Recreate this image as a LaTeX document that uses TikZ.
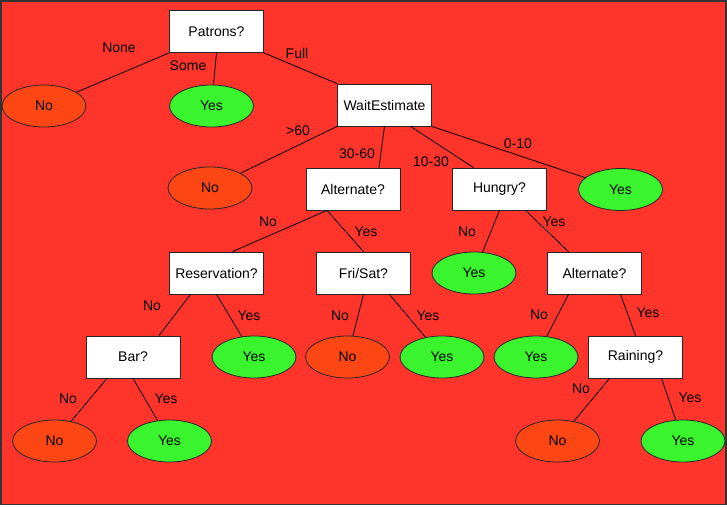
\documentclass[tikz,border=0pt]{standalone}
\usepackage{fontspec}
\setmainfont{Liberation Sans}
\usetikzlibrary{shapes.geometric}

\definecolor{bgred}{RGB}{255,52,42}
\definecolor{leafno}{RGB}{252,70,20}
\definecolor{leafyes}{RGB}{58,245,45}

\begin{document}
\begin{tikzpicture}[x=1pt,y=-1pt,
    txt/.style={font=\fontsize{14}{16}\selectfont},
    test/.style={txt, draw=black!85, fill=white, line width=0.8pt,
        minimum width=94pt, minimum height=42pt, inner sep=0pt},
    leaf/.style={txt, ellipse, draw=black!85, line width=0.8pt,
        minimum width=84pt, minimum height=42pt, inner sep=0pt},
    yesleaf/.style={leaf, fill=leafyes},
    noleaf/.style={leaf, fill=leafno},
    lbl/.style={txt, inner sep=0pt},
    branch/.style={line width=0.8pt}]
        \useasboundingbox (0,0) rectangle (727,506);
        \draw[fill=bgred, draw=black!80, line width=1.5pt] (1,1) rectangle (726,504.5);

        % Attribute tests
        \node[test] (patrons) at (216.5,31.5) {Patrons?};
        \node[test] (wait) at (384.5,105) {WaitEstimate};
        \node[test] (altA) at (353,189) {Alternate?};
        \node[test] (hungry) at (499.5,189) {Hungry?};
        \node[test] (reserv) at (216.5,273) {Reservation?};
        \node[test] (frisat) at (363.5,273) {Fri/Sat?};
        \node[test] (altB) at (594.5,273) {Alternate?};
        \node[test] (bar) at (133,357) {Bar?};
        \node[test] (raining) at (635.5,357) {Raining?};

        % Leaves
        \node[noleaf] (no1) at (44,106) {No};
        \node[yesleaf] (yes1) at (211.5,106) {Yes};
        \node[noleaf] (no2) at (210,188) {No};
        \node[yesleaf] (yes2) at (620.5,189.5) {Yes};
        \node[yesleaf] (yes3) at (474,273) {Yes};
        \node[yesleaf] (yes4) at (254,357) {Yes};
        \node[noleaf] (no3) at (347.5,357) {No};
        \node[yesleaf] (yes5) at (442,357) {Yes};
        \node[yesleaf] (yes6) at (536,357) {Yes};
        \node[noleaf] (no4) at (54.5,441) {No};
        \node[yesleaf] (yes7) at (169.5,441) {Yes};
        \node[noleaf] (no5) at (557.5,441) {No};
        \node[yesleaf] (yes8) at (683,441) {Yes};

        % Branches
        \draw[branch] (patrons.south west) -- (no1);
        \draw[branch] (patrons.south) -- (yes1);
        \draw[branch] (patrons.south east) -- (wait.north west);
        \draw[branch] (wait.south west) -- (no2);
        \draw[branch] (wait.south) -- ([xshift=26pt]altA.north);
        \draw[branch] ([xshift=26pt]wait.south) -- ([xshift=-26pt]hungry.north);
        \draw[branch] (wait.south east) -- (yes2);
        \draw[branch] ([xshift=-26pt]altA.south) -- ([xshift=16pt]reserv.north);
        \draw[branch] ([xshift=-26pt]altA.south) -- (frisat.north);
        \draw[branch] (hungry.south) -- (yes3);
        \draw[branch] ([xshift=26pt]hungry.south) -- ([xshift=-26pt]altB.north);
        \draw[branch] ([xshift=-26pt]reserv.south) -- ([xshift=26pt]bar.north);
        \draw[branch] (reserv.south) -- (yes4);
        \draw[branch] (frisat.south) -- (no3);
        \draw[branch] ([xshift=26pt]frisat.south) -- (yes5);
        \draw[branch] ([xshift=-26pt]altB.south) -- (yes6);
        \draw[branch] ([xshift=26pt]altB.south) -- (raining.north);
        \draw[branch] ([xshift=-26pt]bar.south) -- (no4);
        \draw[branch] (bar.south) -- (yes7);
        \draw[branch] ([xshift=-26pt]raining.south) -- (no5);
        \draw[branch] ([xshift=26pt]raining.south) -- (yes8);

        % Branch labels
        \node[lbl] (lNone) at (119,48) {None};
        \node[lbl] (lSome) at (188,66) {Some};
        \node[lbl] (lFull) at (297,53) {Full};
        \node[lbl] (lOver) at (298,131) {>60};
        \node[lbl] (lLong) at (357,154) {30-60};
        \node[lbl] (lMid) at (431,162) {10-30};
        \node[lbl] (lShort) at (518,144) {0-10};
        \node[lbl] (lAltANo) at (268,222) {No};
        \node[lbl] (lAltAYes) at (366,232) {Yes};
        \node[lbl] (lHunNo) at (467,232) {No};
        \node[lbl] (lHunYes) at (554,222) {Yes};
        \node[lbl] (lResNo) at (152,306) {No};
        \node[lbl] (lResYes) at (249,316) {Yes};
        \node[lbl] (lFriNo) at (340,316) {No};
        \node[lbl] (lFriYes) at (428,316) {Yes};
        \node[lbl] (lAltBNo) at (539,315) {No};
        \node[lbl] (lAltBYes) at (648,313) {Yes};
        \node[lbl] (lBarNo) at (68,399) {No};
        \node[lbl] (lBarYes) at (166,399) {Yes};
        \node[lbl] (lRainNo) at (581,389) {No};
        \node[lbl] (lRainYes) at (690,398) {Yes};
    \end{tikzpicture}
\end{document}
